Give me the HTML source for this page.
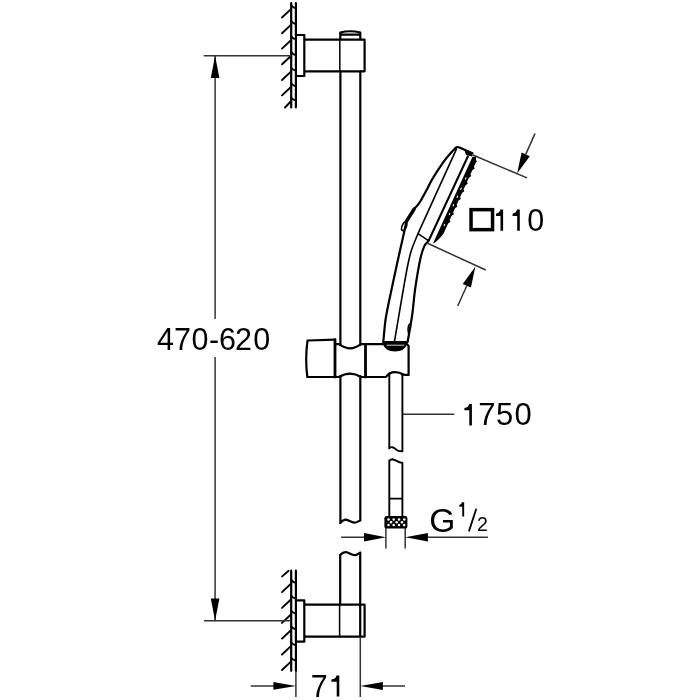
<!DOCTYPE html>
<html><head><meta charset="utf-8">
<style>
html,body{margin:0;padding:0;background:#fff;width:700px;height:700px;overflow:hidden}
svg{display:block;will-change:transform}
text{font-family:"Liberation Sans",sans-serif;fill:#000}
</style></head>
<body>
<svg width="700" height="700" viewBox="0 0 700 700">
<rect width="700" height="700" fill="#fff"/>
<g fill="none" stroke="#000" stroke-linecap="round" stroke-linejoin="round">
<path stroke-width="2.2" d="M291.2,3V107.5M295.9,3V107.5"/>
<path stroke-width="1.9" d="M282,17.5L291.2,8.9M291.2,5.3Q292.9,7.6 295.9,8.3M282,33.2L291.2,24.6M291.2,21.0Q292.9,23.3 295.9,24.0M282,48.6L291.2,40.0M291.2,36.4Q292.9,38.7 295.9,39.4M282,64.3L291.2,55.7M291.2,52.1Q292.9,54.4 295.9,55.1M282,80L291.2,71.4M291.2,67.8Q292.9,70.1 295.9,70.8M282,95.4L291.2,86.8M291.2,83.2Q292.9,85.5 295.9,86.2M285,107.5L291.2,101M291.2,97.6Q292.9,99.9 295.9,100.6"/>
<path stroke-width="2.2" d="M296,35H304.3V76H296M304.3,39.7H364.6V71.3H304.3M340.3,39.7V32.5Q350.3,30 360.3,32.5V39.7M340.5,34.6H360"/>
<path stroke-width="2.2" d="M340.4,71.3V345M360.3,71.3V345M340.4,376V523M360.3,376V520.4M340.1,523C342,521 344,519.4 346,519.6C349,520 351,522.8 354.5,522.7C357,522.6 358.5,521 360.4,520.4M340.1,555.1C342,553 344,552 346,552.1C349,552.3 351,555 355,555.1C357,555.1 358.5,553.3 360.4,552.6M340.2,555.1V604.7M360.2,552.6V637"/>
<path stroke-width="2.2" d="M291.2,570.7V670.8M295.9,570.7V671"/>
<path stroke-width="1.9" d="M282.1,576.4L288.6,570.7M282,592.1L291.2,583.5M291.2,579.9Q292.9,582.2 295.9,582.9M282,607.9L291.2,599.3M291.2,595.7Q292.9,598.0 295.9,598.7M282,622.9L291.2,614.3M291.2,610.7Q292.9,613.0 295.9,613.7M282,638.6L291.2,630.0M291.2,626.4Q292.9,628.7 295.9,629.4M282,654.5L291.2,645.9M291.2,642.3Q292.9,644.6 295.9,645.3M282,670L291.2,661.4M291.2,657.8Q292.9,660.1 295.9,660.8"/>
<path stroke-width="2.2" d="M296,600.4H304.3V641.7H296M304.3,604.7H364.6V636.7H304.3"/>
<path stroke-width="1.5" d="M339.6,604.7V636.7M339.8,39.7V71.3"/>
<path stroke-width="2.2" d="M335,339.7L307.5,340.5Q305,359 307.3,377H335"/>
<path stroke-width="2.8" d="M335,339.7V377M365.5,344.4V377"/>
<path stroke-width="2.2" d="M335,344.2H339C343,347 346,348.4 350.3,348.4C354,348.4 357,347 361,344.2H383.3M335,377H339C343,374.5 346,373.6 350.3,373.6C354,373.6 357,374.5 361,377H386C388,374 391,372.2 395,372.2C399,372.2 401,373 403,374.6Q405,375 408.6,375V346.1L406.7,344"/>
<path fill="#000" stroke-width="1.5" d="M383.3,343.5Q386,350.8 395,350.8Q404,350.8 406.7,343.5Z"/>
<path stroke="#fff" stroke-width="0.8" d="M387,345.2H404"/>
<path stroke-width="2" d="M383.3,341.9H407.5"/><path stroke-width="1.4" d="M409.3,324.2Q407.2,328 408.4,333"/>
<path stroke-width="2.2" d="M455.5,148.3C454.9,148.9 453.8,149.5 451.9,151.7C450.0,153.9 447.1,156.9 443.9,161.4C440.7,165.9 435.4,173.9 432.6,178.6C429.8,183.2 428.8,185.9 427.0,189.3C425.2,192.7 423.0,196.7 421.6,199.1C420.2,201.5 420.0,202.0 418.8,203.6C417.6,205.2 415.4,207.6 414.7,208.4"/>
<path stroke-width="3.4" d="M414.2,209L406,222"/>
<ellipse cx="404.2" cy="226.3" rx="2.1" ry="4.5" transform="rotate(22 404.2 226.3)" fill="#fff" stroke-width="1.6"/>
<path stroke-width="2.2" d="M404.4,231.1C403.7,234.2 401.6,243.5 400.1,250.0C398.7,256.5 397.5,261.7 395.7,270.0C393.9,278.3 391.0,291.7 389.3,300.0C387.6,308.3 386.5,313.0 385.5,320.0C384.5,327.0 383.7,338.2 383.3,341.9M406,223L404.4,231.1"/>
<path stroke-width="1.6" d="M456.3,149.4L418,233.7M418.0,233.7C416.9,236.4 413.2,244.8 411.5,250.0C409.8,255.2 409.5,256.7 407.8,265.0C406.1,273.3 403.7,287.2 401.5,300.0C399.3,312.8 395.6,334.9 394.4,341.9M418,233.7L428.4,240.6"/>
<path stroke-width="2.2" d="M467.9,156.4L428.6,240.9M428.6,240.9C427.9,241.8 425.5,243.4 424.1,246.6C422.7,249.8 421.6,252.8 420.1,260.0C418.6,267.2 416.3,280.8 415.0,290.0C413.7,299.2 413.4,306.4 412.2,315.0C411.0,323.6 408.4,337.1 407.7,341.5"/>
<path stroke-width="2.2" d="M472.4,153.2L459.5,147.5Q457.2,146.6 455.2,148.2"/>
<path fill="#000" stroke="none" d="M472.4,157.0 L433.1,243.3 L433.0,243.6 L434.2,243.1 L435.0,242.6 L435.6,242.1 L436.2,241.6 L436.8,241.1 L437.3,240.6 L437.9,240.1 L438.4,239.6 L438.9,239.1 L439.3,238.6 L439.8,238.1 L440.3,237.6 L440.7,237.1 L441.1,236.6 L441.6,236.1 L442.0,235.6 L442.4,235.1 L442.9,234.6 L443.3,234.1 L443.5,233.6 L443.8,233.1 L444.0,232.6 L444.2,232.1 L444.5,231.6 L444.7,231.1 L444.9,230.6 L445.1,230.1 L445.4,229.6 L445.6,229.1 L445.8,228.6 L446.0,228.1 L446.3,227.6 L446.5,227.1 L446.7,226.6 L447.0,226.1 L447.2,225.6 L447.4,225.1 L447.6,224.6 L447.9,224.1 L448.1,223.6 L448.7,223.1 L449.4,222.6 L450.1,222.1 L450.4,221.6 L450.2,221.1 L449.9,220.6 L449.7,220.1 L449.9,219.6 L450.1,219.1 L450.4,218.6 L450.6,218.1 L450.8,217.6 L451.1,217.1 L451.3,216.6 L451.5,216.1 L452.0,215.6 L452.7,215.1 L453.5,214.6 L453.8,214.1 L453.8,213.6 L453.4,213.1 L453.2,212.6 L453.3,212.1 L453.6,211.6 L453.8,211.1 L454.0,210.6 L454.2,210.1 L454.5,209.6 L454.7,209.1 L454.9,208.6 L455.3,208.1 L456.0,207.6 L456.8,207.1 L457.3,206.6 L457.3,206.1 L456.9,205.6 L456.7,205.1 L456.7,204.6 L457.0,204.1 L457.2,203.6 L457.4,203.1 L457.7,202.6 L457.9,202.1 L458.1,201.6 L458.3,201.1 L458.6,200.6 L459.3,200.1 L460.1,199.6 L460.7,199.1 L460.8,198.6 L460.5,198.1 L460.2,197.6 L460.2,197.1 L460.4,196.6 L460.6,196.1 L460.8,195.6 L461.1,195.1 L461.3,194.6 L461.5,194.1 L461.7,193.6 L462.0,193.1 L462.6,192.6 L463.4,192.1 L464.1,191.6 L464.2,191.1 L464.0,190.6 L463.7,190.1 L463.6,189.6 L463.8,189.1 L464.0,188.6 L464.2,188.1 L464.5,187.6 L464.7,187.1 L464.9,186.6 L465.2,186.1 L465.4,185.6 L465.9,185.1 L466.7,184.6 L467.4,184.1 L467.7,183.6 L467.5,183.1 L467.2,182.6 L467.0,182.1 L467.2,181.6 L467.4,181.1 L467.7,180.6 L467.9,180.1 L468.1,179.6 L468.3,179.1 L468.6,178.6 L468.8,178.1 L469.3,177.6 L470.0,177.1 L470.8,176.6 L471.1,176.1 L471.1,175.6 L470.7,175.1 L470.5,174.6 L470.6,174.1 L470.8,173.6 L471.1,173.1 L471.3,172.6 L471.5,172.1 L471.8,171.6 L472.0,171.1 L472.2,170.6 L472.6,170.1 L473.3,169.6 L474.1,169.1 L474.6,168.6 L474.6,168.1 L474.2,167.6 L474.0,167.1 L474.0,166.6 L474.3,166.1 L474.5,165.6 L474.7,165.1 L474.9,164.6 L475.2,164.1 L475.4,163.6 L475.6,163.1 L475.8,162.6 L476.3,162.1 L476.9,161.6 L477.3,161.1 L475.9,160.6 L476.0,160.1 L476.0,159.6 L476.1,159.1 L476.1,158.6 L476.1,158.1 L476.2,157.6 L476.2,157.1 L476.3,156.6Z"/>
<path fill="#000" stroke="none" d="M464.5,150.5L472,153.5L472.5,156.5L466,155Z"/><g fill="#fff"><ellipse cx="465.7" cy="178.4" rx="1.1" ry="1.8" transform="rotate(25 465.7 178.4)"/><ellipse cx="461.0" cy="188.7" rx="1.1" ry="1.8" transform="rotate(25 461.0 188.7)"/><ellipse cx="457.3" cy="196.7" rx="1.1" ry="1.8" transform="rotate(25 457.3 196.7)"/><ellipse cx="453.4" cy="205.3" rx="1.1" ry="1.8" transform="rotate(25 453.4 205.3)"/><ellipse cx="449.5" cy="214.0" rx="1.1" ry="1.8" transform="rotate(25 449.5 214.0)"/><ellipse cx="444.5" cy="224.9" rx="1.1" ry="1.8" transform="rotate(25 444.5 224.9)"/></g>
<g stroke="#333" stroke-width="1.5" stroke-linecap="butt">
<path d="M203.6,55.7H291M204,620.7H291M215.1,55.7V319M215.1,357V620.7"/>
<path d="M472.3,154.8L527.1,177.9M427.5,243.3L485.7,270M525.7,154.4L535,133.6M466.8,285.8L457.7,306"/>
<path d="M402.4,414.3H454.3"/>
<path d="M341.1,537.2H370M420,537.2H487.9M385.9,528V548.5M405.2,528V548.5"/>
<path d="M250.7,686H280M375,686H405M295.9,671V697M360.3,637V697"/>
</g>
<path stroke-width="1.9" d="M389.3,373.5V448.3M402.4,373.8V451.3M389.2,448.3C390.5,447 391.5,447 392.4,447.2C395,447.8 397,451 399.3,451.1C400.5,451.2 401.5,451.3 402.3,451.3M389.2,460.7C390.5,459.5 391.5,459.2 392.4,459.2C395,459.5 398,462.5 402.3,462.9M389.3,460.7V517M402.4,462.9V517M389.3,498.6H402.4"/>
</g>
<g fill="#000" stroke="none">
<polygon points="215.1,55.7 210.8,78 219.4,78"/>
<polygon points="215.1,620.7 210.8,598.6 219.4,598.6"/>
<polygon points="517.1,173.6 529.8,156.3 521.6,152.6"/>
<polygon points="475.4,266.6 470.9,287.6 462.7,284"/>
<polygon points="385.9,537.2 364,533 364,541.4"/>
<polygon points="405.2,537.2 427.9,533.1 427.9,541.4"/>
<polygon points="295.9,686 273.4,682 273.4,689.8"/>
<polygon points="360.3,686 382.9,682 382.9,690"/>
</g>
<rect x="384.4" y="516" width="23" height="12.6" rx="2.2" fill="#000"/>
<g fill="#fff">
<circle cx="388.5" cy="519.6" r="1.25"/><circle cx="393.7" cy="519.6" r="1.25"/><circle cx="399" cy="519.6" r="1.25"/><circle cx="404.2" cy="519.6" r="1.25"/>
<circle cx="391" cy="522.2" r="1.25"/><circle cx="396.6" cy="522.2" r="1.25"/><circle cx="401.9" cy="522.2" r="1.25"/>
<circle cx="388.5" cy="524.9" r="1.25"/><circle cx="393.7" cy="524.9" r="1.25"/><circle cx="399" cy="524.9" r="1.25"/><circle cx="404.2" cy="524.9" r="1.25"/>
</g>
<rect x="471.05" y="209.65" width="21.5" height="20" fill="none" stroke="#000" stroke-width="3.5"/>
<text x="157.0 174.1 191.6 209.1 219.1 235.0 253.3" y="350" font-size="30.5">470-620</text>
<text x="527.3" y="230.7" font-size="30.5">0</text>
<text x="478.3 496.1 514.6" y="425.2" font-size="31">750</text>
<text x="429.3" y="532" font-size="33.5">G</text>
<text x="477.1" y="531.4" font-size="19.6">2</text>
<text x="310.7" y="696.6" font-size="30.5">7</text>
<path fill="#000" d="M471.90,403.90L471.90,425.40L469.30,425.40L469.30,410.25L464.40,410.25L464.40,407.95Q468.70,407.45 469.10,403.90ZM503.10,209.60L503.10,230.70L500.50,230.70L500.50,215.95L496.00,215.95L496.00,213.65Q499.90,213.15 500.30,209.60ZM519.80,209.60L519.80,230.70L517.20,230.70L517.20,215.95L512.60,215.95L512.60,213.65Q516.60,213.15 517.00,209.60ZM339.30,675.40L339.30,696.60L336.70,696.60L336.70,681.75L331.40,681.75L331.40,679.45Q336.10,678.95 336.50,675.40ZM464.15,502.30L464.15,516.50L462.25,516.50L462.25,506.65L459.30,506.65L459.30,504.95Q461.65,504.45 462.05,502.30Z"/>
<path d="M468.9,531.4L476.3,508.7" stroke="#000" stroke-width="1.8" fill="none"/>

</svg>
</body></html>
